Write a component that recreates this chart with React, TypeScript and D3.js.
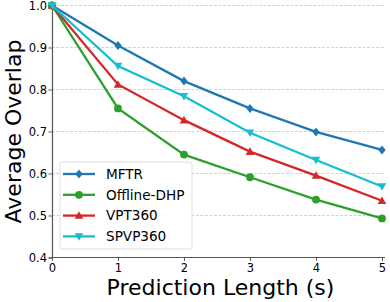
import React, { useEffect, useRef } from "react";
import * as d3 from "d3";

const steps = [0, 1, 2, 3, 4, 5];
const mftr = [1.0, 0.905, 0.82, 0.755, 0.699, 0.656];
const offlineDhp = [1.0, 0.755, 0.645, 0.591, 0.538, 0.493];
const vpt360 = [1.0, 0.812, 0.727, 0.652, 0.595, 0.535];
const spvp360 = [1.0, 0.856, 0.784, 0.697, 0.632, 0.569];
const yTicks = [0.4, 0.5, 0.6, 0.7, 0.8, 0.9, 1.0];

const series = [
  { name: "MFTR", values: mftr, color: "#1f77b4", symbol: "diamond" },
  { name: "Offline-DHP", values: offlineDhp, color: "#2ca02c", symbol: "circle" },
  { name: "VPT360", values: vpt360, color: "#d62728", symbol: "up" },
  { name: "SPVP360", values: spvp360, color: "#17becf", symbol: "down" },
];

function markerPath(symbol: string, s: number) {
  if (symbol === "diamond") return `M0,${-s * 1.05}L${s * 0.85},0L0,${s * 1.05}L${-s * 0.85},0Z`;
  if (symbol === "up") return `M0,${-s}L${s},${s * 0.75}L${-s},${s * 0.75}Z`;
  if (symbol === "down") return `M0,${s}L${s},${-s * 0.75}L${-s},${-s * 0.75}Z`;
  return d3.symbol(d3.symbolCircle, s * s * 2.6)() as string;
}

export default function App() {
  const ref = useRef<SVGSVGElement>(null);

  useEffect(() => {
    const svg = d3.select(ref.current);
    svg.selectAll("*").remove();
    const font = "DejaVu Sans, sans-serif";

    const x = d3.scaleLinear().domain([0, 5]).range([52, 382]);
    const y = d3.scaleLinear().domain([0.4, 1.0]).range([257.5, 5.5]);

    // grid
    svg.append("g")
      .selectAll("line")
      .data(yTicks.slice(1))
      .join("line")
      .attr("x1", x(0))
      .attr("x2", 385)
      .attr("y1", (d) => y(d))
      .attr("y2", (d) => y(d))
      .attr("stroke", "#c8c8c8")
      .attr("stroke-width", 0.8)
      .attr("stroke-dasharray", "3,1.5");

    const xAxis = svg.append("g")
      .attr("transform", `translate(0,${y(0.4)})`)
      .call(d3.axisBottom(x).tickValues(steps).tickFormat(d3.format("d")).tickSizeOuter(0).tickSize(3.5).tickPadding(3));
    const yAxis = svg.append("g")
      .attr("transform", `translate(${x(0)},0)`)
      .call(d3.axisLeft(y).tickValues(yTicks).tickFormat(d3.format(".1f")).tickSizeOuter(0).tickSize(3.5).tickPadding(1.5));
    [xAxis, yAxis].forEach((g) => {
      g.select(".domain").attr("stroke", "#555").attr("stroke-width", 1.2);
      g.selectAll(".tick line").attr("stroke", "#333").attr("stroke-width", 0.8);
      g.selectAll(".tick text").attr("fill", "#000").style("font-family", font).style("font-size", "11.5px");
    });
    xAxis.select(".domain").attr("d", `M${x(0)},0H385`);

    const line = d3.line<number>().x((d, i) => x(steps[i])).y((d) => y(d));

    series.forEach((s) => {
      svg.append("path")
        .datum(s.values)
        .attr("fill", "none")
        .attr("stroke", s.color)
        .attr("stroke-width", 2.3)
        .attr("d", line);
      svg.append("g")
        .selectAll("path")
        .data(s.values)
        .join("path")
        .attr("transform", (d, i) => `translate(${x(steps[i])},${y(d)})`)
        .attr("d", markerPath(s.symbol, 4.3))
        .attr("fill", s.color);
    });

    // legend
    const lg = svg.append("g").attr("transform", "translate(60,162)");
    lg.append("rect")
      .attr("width", 132)
      .attr("height", 87)
      .attr("rx", 2.5)
      .attr("fill", "white")
      .attr("fill-opacity", 0.85)
      .attr("stroke", "#d6d6d6")
      .attr("stroke-width", 0.8);
    series.forEach((s, i) => {
      const row = lg.append("g").attr("transform", `translate(0,${12 + i * 20.8})`);
      row.append("line")
        .attr("x1", 3).attr("x2", 35)
        .attr("stroke", s.color).attr("stroke-width", 2.3);
      row.append("path")
        .attr("transform", "translate(19,0)")
        .attr("d", markerPath(s.symbol, 4.3))
        .attr("fill", s.color);
      row.append("text")
        .attr("x", 46)
        .attr("dy", "0.35em")
        .style("font-family", font)
        .style("font-size", "13.6px")
        .text(s.name);
    });

    svg.append("text")
      .attr("transform", `translate(${13},${y(0.7)}) rotate(-90)`)
      .attr("text-anchor", "middle")
      .attr("dy", "0.35em")
      .style("font-family", font)
      .style("font-size", "22px")
      .text("Average Overlap");

    svg.append("text")
      .attr("x", 220.5)
      .attr("y", 294.5)
      .attr("text-anchor", "middle")
      .style("font-family", font)
      .style("font-size", "22px")
      .text("Prediction Length (s)");
  }, []);

  return (
    <svg
      ref={ref}
      width={390}
      height={302}
      style={{ position: "absolute", left: 0, top: 0, background: "white" }}
    />
  );
}
